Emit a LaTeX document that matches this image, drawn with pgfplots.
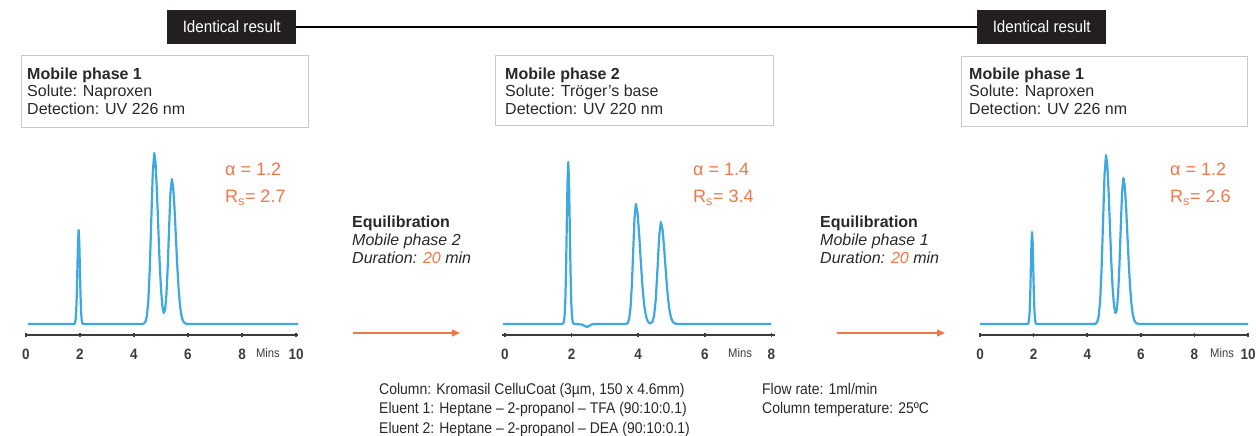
\documentclass[border=0pt]{standalone}
\usepackage{fontspec}
\setmainfont{Liberation Sans}
\newfontfamily\condfont[FakeStretch=0.9]{Liberation Sans}
\newfontfamily\condtitle[FakeStretch=0.92]{Liberation Sans}
\usepackage{pgfplots}
\pgfplotsset{compat=1.18}
\usetikzlibrary{arrows.meta}
\definecolor{cblue}{RGB}{62,168,224}
\definecolor{corange}{RGB}{240,120,70}
\definecolor{axgray}{RGB}{60,60,60}
\definecolor{boxgray}{RGB}{200,200,200}
\definecolor{lblack}{RGB}{35,31,32}
\definecolor{txt}{RGB}{40,40,40}
\pgfplotsset{chrom/.style={
  scale only axis, height=191pt, ymin=-11, ymax=180,
  axis x line*=bottom, axis y line=none, ytick=\empty,
  x axis line style={axgray, line width=1.6pt},
  major tick length=4pt, tick align=center,
  tick style={axgray, line width=1.6pt},
  xticklabel style={font=\condfont\bfseries\fontsize{15}{15}\selectfont, text=axgray, anchor=base, yshift=-23pt},
  clip=false, anchor=south west
}}
\begin{document}
\begin{tikzpicture}
\useasboundingbox (0,0) rectangle (1256pt,436pt);
% panel 1
\begin{axis}[chrom, at={(24.9pt,101pt)}, width=273pt, xmin=-0.04, xmax=10.07,
  xtick={0,2,4,6,8,10}, xticklabels={0,2,4,6,8,10}]
\addplot[cblue, line width=2.2pt, line join=round] coordinates {
(0.07,0) (1.79,0) (1.815,1.0) (1.838,4.1) (1.86,12.7) (1.883,30.5) (1.905,57.0) (1.928,83.0) (1.95,94) (1.973,83.0) (1.995,57.0) (2.018,30.5) (2.04,12.7) (2.063,4.1) (2.085,1.0) (2.11,0.2) (2.14,0) (4.33,0) (4.365,0.4) (4.42,1.9) (4.475,7.5) (4.53,23.1) (4.585,55.5) (4.64,103.7) (4.695,150.9) (4.75,171) (4.80,160.4) (4.85,132.5) (4.90,96.3) (4.95,61.6) (5.00,34.9) (5.05,18.1) (5.10,11.0) (5.15,13.9) (5.20,28.8) (5.25,57.5) (5.30,95.9) (5.35,130.8) (5.40,145) (5.45,137.2) (5.50,116.1) (5.55,87.9) (5.60,59.6) (5.65,36.2) (5.70,19.6) (5.75,9.5) (5.80,4.1) (5.85,1.6) (5.90,0.6) (5.95,0.2) (6.00,0) (10.07,0)};
\end{axis}
% panel 2
\begin{axis}[chrom, at={(502pt,101pt)}, width=272.7pt, xmin=-0.09, xmax=8.1,
  xtick={0,2,4,6,8}, xticklabels={0,2,4,6,8}]
\addplot[cblue, line width=2.2pt, line join=round] coordinates {
(-0.06,0) (1.72,0) (1.743,0.4) (1.765,1.8) (1.788,7.1) (1.81,21.9) (1.833,52.6) (1.855,98.3) (1.878,143.0) (1.9,162) (1.923,143.0) (1.945,98.3) (1.968,52.6) (1.99,21.9) (2.013,7.1) (2.035,1.8) (2.058,0.4) (2.08,0) (2.3,-0.5) (2.4,-2) (2.46,-3) (2.52,-2) (2.6,-0.5) (2.75,0) (3.62,0) (3.65,0.3) (3.69,1.3) (3.73,5.3) (3.77,16.2) (3.81,39.0) (3.85,72.8) (3.89,105.9) (3.93,120) (3.98,111.4) (4.03,89.3) (4.08,61.7) (4.13,36.7) (4.18,18.8) (4.23,8.4) (4.28,3.2) (4.33,1.1) (4.38,0.7) (4.43,2.3) (4.48,8.6) (4.53,25.4) (4.58,55.0) (4.63,87.4) (4.68,102) (4.73,94.7) (4.78,75.9) (4.83,52.4) (4.88,31.2) (4.93,16.0) (4.98,7.1) (5.03,2.7) (5.08,0.9) (5.13,0.3) (5.18,0) (8.0,0)};
\end{axis}
% panel 3
\begin{axis}[chrom, at={(979pt,101pt)}, width=269pt, xmin=-0.04, xmax=10,
  xtick={0,2,4,6,8,10}, xticklabels={0,2,4,6,8,10}]
\addplot[cblue, line width=2.2pt, line join=round] coordinates {
(0,0) (1.78,0) (1.805,1.0) (1.828,4.0) (1.85,12.4) (1.873,29.9) (1.895,55.8) (1.918,81.2) (1.94,92) (1.963,81.2) (1.985,55.8) (2.008,29.9) (2.03,12.4) (2.053,4.0) (2.075,1.0) (2.1,0.2) (2.13,0) (4.28,0) (4.315,0.4) (4.37,1.9) (4.425,7.4) (4.48,22.8) (4.535,54.8) (4.59,102.5) (4.645,149.1) (4.70,169) (4.75,158.5) (4.80,130.9) (4.85,95.1) (4.90,60.9) (4.95,34.5) (5.00,18.0) (5.05,10.9) (5.10,13.9) (5.15,28.9) (5.20,57.9) (5.25,96.6) (5.30,131.7) (5.35,146) (5.40,138.2) (5.45,116.9) (5.50,88.5) (5.55,60.0) (5.60,36.5) (5.65,19.7) (5.70,9.6) (5.75,4.1) (5.80,1.6) (5.85,0.6) (5.90,0.2) (5.95,0) (10,0)};
\end{axis}
% Mins labels
\foreach \x in {268,740,1222}{
  \node[anchor=base, inner sep=0, text=axgray, font=\condfont\fontsize{12.5}{12.5}\selectfont] at (\x pt,78pt) {Mins};}
% top labels
\draw[line width=1.1pt, black] (296pt,409pt) -- (977pt,409pt);
\foreach \x in {167,977}{
  \node[fill=lblack, minimum width=129pt, minimum height=34pt, anchor=south west, inner sep=0, text=white, font=\condtitle\fontsize{16.5}{16.5}\selectfont] at (\x pt,392pt) {Identical result};}
% info boxes
\draw[boxgray, line width=1pt] (21pt,308pt) rectangle (308pt,380pt);
\draw[boxgray, line width=1pt] (495pt,310pt) rectangle (773pt,380pt);
\draw[boxgray, line width=1pt] (961pt,309pt) rectangle (1247pt,379pt);
\begin{scope}[every node/.style={anchor=base west, inner sep=0, text=txt, font=\fontsize{16}{18}\selectfont}]
\node at (27pt,356pt) {\bfseries Mobile phase 1};
\node at (27pt,339pt) {Solute: Naproxen};
\node at (27pt,321pt) {Detection: UV 226 nm};
\node at (505pt,356pt) {\bfseries Mobile phase 2};
\node at (505pt,339pt) {Solute: Tröger's base};
\node at (505pt,321pt) {Detection: UV 220 nm};
\node at (969pt,356pt) {\bfseries Mobile phase 1};
\node at (969pt,339pt) {Solute: Naproxen};
\node at (969pt,321pt) {Detection: UV 226 nm};
% equilibration
\node at (352pt,208pt) {\bfseries Equilibration};
\node at (352pt,190pt) {\itshape Mobile phase 2};
\node at (352pt,172pt) {\itshape Duration: \textcolor{corange}{20} min};
\node at (820pt,208pt) {\bfseries Equilibration};
\node at (820pt,190pt) {\itshape Mobile phase 1};
\node at (820pt,172pt) {\itshape Duration: \textcolor{corange}{20} min};
\end{scope}
% alpha / Rs
\begin{scope}[every node/.style={anchor=base west, inner sep=0, text=corange, font=\fontsize{18}{20}\selectfont}]
\node at (225pt,260pt) {α = 1.2};
\node at (225pt,233pt) {R\textsubscript{s}= 2.7};
\node at (693pt,260pt) {α = 1.4};
\node at (693pt,233pt) {R\textsubscript{s}= 3.4};
\node at (1170pt,260pt) {α = 1.2};
\node at (1170pt,233pt) {R\textsubscript{s}= 2.6};
\end{scope}
% arrows
\draw[corange, line width=1.5pt, -{Triangle[length=8pt,width=7pt]}] (353pt,103pt) -- (460pt,103pt);
\draw[corange, line width=1.5pt, -{Triangle[length=8pt,width=7pt]}] (837pt,103pt) -- (945pt,103pt);
% bottom text
\begin{scope}[every node/.style={anchor=base west, inner sep=0, text=txt, font=\condfont\fontsize{15.5}{19}\selectfont}]
\node at (379pt,41pt) {Column: Kromasil CelluCoat (3µm, 150 x 4.6mm)};
\node at (379pt,22pt) {Eluent 1: Heptane – 2-propanol – TFA (90:10:0.1)};
\node at (379pt,2.5pt) {Eluent 2: Heptane – 2-propanol – DEA (90:10:0.1)};
\node at (762pt,41pt) {Flow rate: 1ml/min};
\node at (762pt,22pt) {Column temperature: 25ºC};
\end{scope}
\end{tikzpicture}
\end{document}
